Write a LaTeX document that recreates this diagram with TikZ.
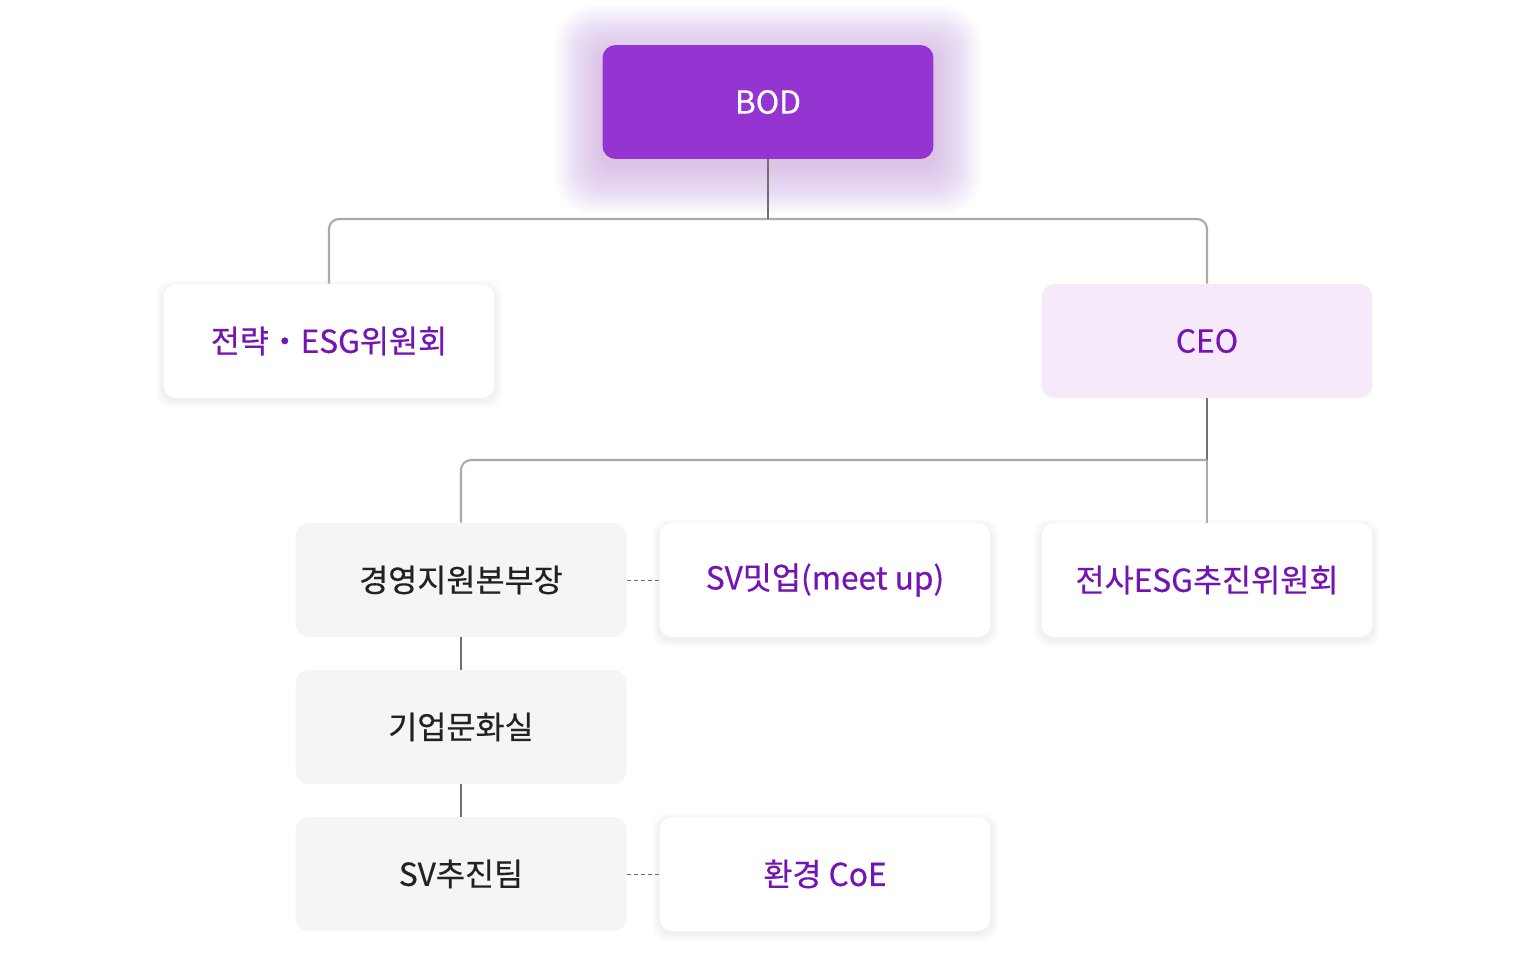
\documentclass[tikz,border=0pt]{standalone}
\usepackage{fontspec}
\setmainfont{Noto Sans CJK KR}[FakeBold=0.45]
\usetikzlibrary{positioning}

\definecolor{bodpurple}{HTML}{9535D1}
\definecolor{txtpurple}{HTML}{7414B4}
\definecolor{ceofill}{HTML}{F5E9FA}
\definecolor{greyfill}{HTML}{F5F5F5}
\definecolor{linegrey}{HTML}{ABABAB}
\definecolor{stemgrey}{HTML}{707070}
\definecolor{txtdark}{HTML}{222222}

\tikzset{
  box/.style={rounded corners=7.4pt, minimum width=6.62cm, minimum height=2.28cm,
    inner sep=0pt, font=\fontsize{18}{18}\selectfont},
  whitebox/.style={box, fill=white, text=txtpurple},
  greybox/.style={box, fill=greyfill, text=txtdark},
  conn/.style={draw=linegrey, line width=1.2pt, rounded corners=5.7pt},
  stem/.style={draw=stemgrey, line width=0.7pt},
  dotline/.style={draw=stemgrey, line width=0.5pt, dash pattern=on 2.2pt off 1.8pt},
}

\begin{document}
\begin{tikzpicture}[x=0.02cm, y=-0.02cm]
        \useasboundingbox (0,0) rectangle (1536,957);
        \fill[white] (0,0) rectangle (1536,957);

        % glow round the BOD box
        \foreach \r in {2,4,...,48} {
          \fill[bodpurple, opacity=0.011, rounded corners=8pt+0.3*\r pt]
          (602-\r,45-\r+8) rectangle (934+\r,159+\r+8);
        }

        % soft shadows of the white boxes
        \foreach \cx/\cy in {329/341,825/580,1207/580,825/874} {
          \foreach \r in {1,2,...,7} {
            \fill[black, opacity=0.008, rounded corners=8pt]
            (\cx-166-\r,\cy-57-\r+3) rectangle (\cx+166+\r,\cy+57+\r+3);
          }
        }

        \node[box, fill=bodpurple, text=white] (bod) at (768,102) {BOD};
        \node[whitebox] (strategy) at (329,341) {전략・ESG위원회};
        \node[box, fill=ceofill, text=txtpurple] (ceo) at (1207,341) {CEO};

        \node[greybox] (mgmt) at (461,580) {경영지원본부장};
        \node[whitebox] (meetup) at (825,580) {SV밋업(meet up)};
        \node[whitebox] (esgall) at (1207,580) {전사ESG추진위원회};
        \node[greybox] (culture) at (461,727) {기업문화실};
        \node[greybox] (svteam) at (461,874) {SV추진팀};
        \node[whitebox] (env) at (825,874) {환경 CoE};

        \coordinate (top) at (768,219);
        \coordinate (mid) at (1207,460);

        \draw[conn] (strategy.north) |- (top) -| (ceo.north);
        \draw[stem] (bod.south) -- (top);
        \draw[stem] (ceo.south) -- (mid);
        \draw[conn] (mgmt.north) |- (mid);
        \draw[conn] (mid) -- (esgall.north);
        \draw[stem] (mgmt.south) -- (culture.north);
        \draw[stem] (culture.south) -- (svteam.north);
        \draw[dotline] (mgmt.east) -- (meetup.west);
        \draw[dotline] (svteam.east) -- (env.west);
    \end{tikzpicture}
\end{document}
